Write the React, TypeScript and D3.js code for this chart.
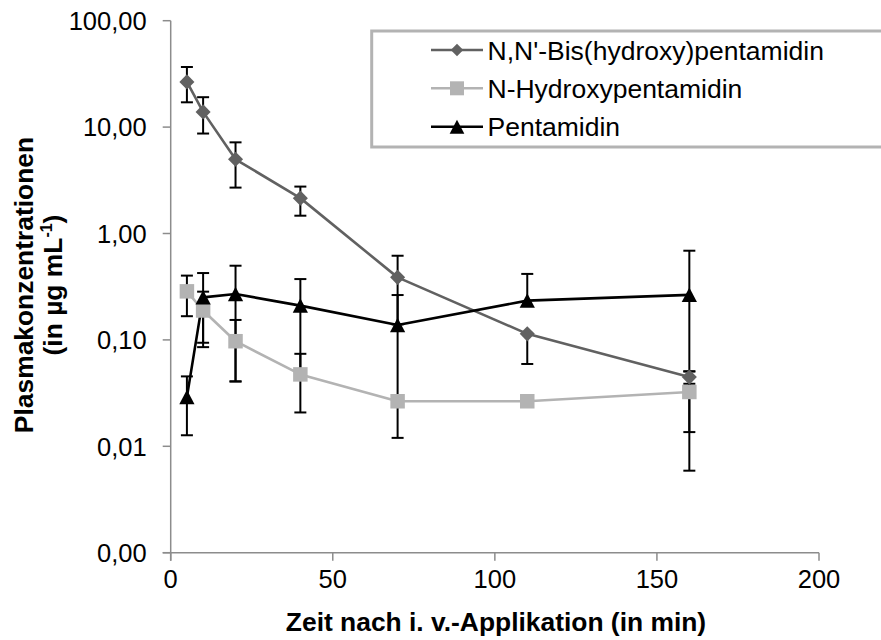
import React from "react";
import * as d3 from "d3";

const times = [5, 10, 20, 40, 70, 110, 160];

const bisName = "N,N'-Bis(hydroxy)pentamidin";
const bisValues = [26.6, 13.9, 4.98, 2.15, 0.387, 0.114, 0.0447];
const bisHigh: (number | null)[] = [36.7, 19.1, 7.19, 2.76, 0.618, null, 0.0506];
const bisLow: (number | null)[] = [17.1, 8.7, 2.7, 1.47, 0.14, 0.0594, 0.0387];

const hydName = "N-Hydroxypentamidin";
const hydValues = [0.286, 0.189, 0.0972, 0.0474, 0.0265, 0.0265, 0.0324];
const hydHigh: (number | null)[] = [0.402, 0.284, 0.154, 0.074, null, null, 0.0506];
const hydLow: (number | null)[] = [0.167, 0.094, 0.0407, 0.0208, null, null, 0.0136];

const penName = "Pentamidin";
const penValues = [0.029, 0.251, 0.27, 0.21, 0.138, 0.234, 0.265];
const penHigh: (number | null)[] = [0.0454, 0.425, 0.498, 0.373, 0.264, 0.417, 0.689];
const penLow: (number | null)[] = [0.0127, 0.0855, 0.0407, 0.047, 0.012, null, 0.0059];

const yTicks = [0.001, 0.01, 0.1, 1, 10, 100];
const xTicks = [0, 50, 100, 150, 200];

const xTitle = "Zeit nach i. v.-Applikation (in min)";
const yTitle1 = "Plasmakonzentrationen";

type Shape = "diamond" | "square" | "triangle";

const series = [
  { name: bisName, values: bisValues, hi: bisHigh, lo: bisLow, color: "#616161", shape: "diamond" as Shape },
  { name: hydName, values: hydValues, hi: hydHigh, lo: hydLow, color: "#b3b3b3", shape: "square" as Shape },
  { name: penName, values: penValues, hi: penHigh, lo: penLow, color: "#000000", shape: "triangle" as Shape },
];

const FONT = "'Liberation Sans', Arial, sans-serif";
const locale = d3.formatLocale({ decimal: ",", thousands: ".", grouping: [3], currency: ["", "€"] });
const fmtY = locale.format(".2f");

function markerPath(shape: Shape, cx: number, cy: number, s: number): string {
  const p = d3.path();
  if (shape === "diamond") {
    const h = s * 0.52;
    p.moveTo(cx, cy - h);
    p.lineTo(cx + h, cy);
    p.lineTo(cx, cy + h);
    p.lineTo(cx - h, cy);
    p.closePath();
  } else if (shape === "square") {
    const h = s / 2;
    p.rect(cx - h, cy - h, s, s);
  } else {
    const h = s / 2;
    p.moveTo(cx, cy - h);
    p.lineTo(cx + h * 1.05, cy + h);
    p.lineTo(cx - h * 1.05, cy + h);
    p.closePath();
  }
  return p.toString();
}

export default function App() {
  const W = 881;
  const H = 640;
  const x = d3.scaleLinear().domain([0, 200]).range([170.7, 819]);
  const y = d3.scaleLog().domain([0.001, 100]).range([552.7, 20.7]);
  const x0 = x(0);
  const yb = y(0.001);
  const axisColor = "#8c8c8c";

  const line = d3
    .line<number>()
    .x((_, i) => x(times[i]))
    .y((v) => y(v));

  const legendX = 371.7;
  const legendY = 31;
  const legendRows = [50, 88.3, 126.7];

  return (
    <div style={{ position: "absolute", left: 0, top: 0 }}>
      <svg width={W} height={H} style={{ display: "block", background: "#fff" }} fontFamily={FONT}>
        <rect x={0} y={0} width={W} height={H} fill="#fff" />
        {/* axes */}
        <line x1={x0} x2={x0} y1={y(100)} y2={yb + 8} stroke={axisColor} strokeWidth={1.5} />
        <line x1={x0 - 8} x2={x(200)} y1={yb} y2={yb} stroke={axisColor} strokeWidth={1.5} />
        {yTicks.map((t) => (
          <g key={"yt" + t}>
            <line x1={x0 - 8} x2={x0} y1={y(t)} y2={y(t)} stroke={axisColor} strokeWidth={1.5} />
            <text x={146.7} y={y(t) + 9.3} textAnchor="end" fontSize={25.5} fill="#000">
              {fmtY(t)}
            </text>
          </g>
        ))}
        {xTicks.map((t) => (
          <g key={"xt" + t}>
            <line x1={x(t)} x2={x(t)} y1={yb} y2={yb + 8} stroke={axisColor} strokeWidth={1.5} />
            <text x={x(t)} y={588} textAnchor="middle" fontSize={25.5} fill="#000">
              {t}
            </text>
          </g>
        ))}
        {/* titles */}
        <text x={496} y={631} textAnchor="middle" fontSize={26.4} fontWeight="bold" fill="#000">
          {xTitle}
        </text>
        <text transform={`translate(32.5,285) rotate(-90)`} textAnchor="middle" fontSize={26.4} fontWeight="bold" fill="#000">
          {yTitle1}
        </text>
        <text transform={`translate(61.5,285) rotate(-90)`} textAnchor="middle" fontSize={26.4} fontWeight="bold" fill="#000">
          (in µg mL
          <tspan fontSize={16} dy={-10}>-1</tspan>
          <tspan dy={10}>)</tspan>
        </text>
        {/* series lines */}
        {series.map((s) => (
          <path key={"l" + s.name} d={line(s.values) || ""} fill="none" stroke={s.color} strokeWidth={2.6} strokeLinejoin="round" />
        ))}
        {/* error bars */}
        {series.map((s) =>
          s.values.map((v, i) => {
            const cx = x(times[i]);
            const parts: JSX.Element[] = [];
            const hi = s.hi[i];
            const lo = s.lo[i];
            if (hi != null) {
              parts.push(<line key="h" x1={cx} x2={cx} y1={y(v)} y2={y(hi)} stroke="#000" strokeWidth={2} />);
              parts.push(<line key="hc" x1={cx - 6} x2={cx + 6} y1={y(hi)} y2={y(hi)} stroke="#000" strokeWidth={2} />);
            }
            if (lo != null) {
              parts.push(<line key="l" x1={cx} x2={cx} y1={y(v)} y2={y(lo)} stroke="#000" strokeWidth={2} />);
              parts.push(<line key="lc" x1={cx - 6} x2={cx + 6} y1={y(lo)} y2={y(lo)} stroke="#000" strokeWidth={2} />);
            }
            return <g key={"e" + s.name + i}>{parts}</g>;
          })
        )}
        {/* markers */}
        {series.map((s) =>
          s.values.map((v, i) => (
            <path key={"m" + s.name + i} d={markerPath(s.shape, x(times[i]), y(v), 14.5)} fill={s.color} stroke="none" />
          ))
        )}
        {/* legend */}
        <rect x={legendX} y={legendY} width={W - legendX + 10} height={116} fill="#fff" stroke="#b3b3b3" strokeWidth={3} />
        {series.map((s, i) => (
          <g key={"lg" + s.name}>
            <line x1={431} x2={483} y1={legendRows[i]} y2={legendRows[i]} stroke={s.color} strokeWidth={2.6} />
            <path d={markerPath(s.shape, 457, legendRows[i], s.shape === "diamond" ? 12 : 14)} fill={s.color} />
            <text x={487.5} y={legendRows[i] + 9.5} fontSize={26.5} fill="#000">
              {s.name}
            </text>
          </g>
        ))}
      </svg>
    </div>
  );
}
